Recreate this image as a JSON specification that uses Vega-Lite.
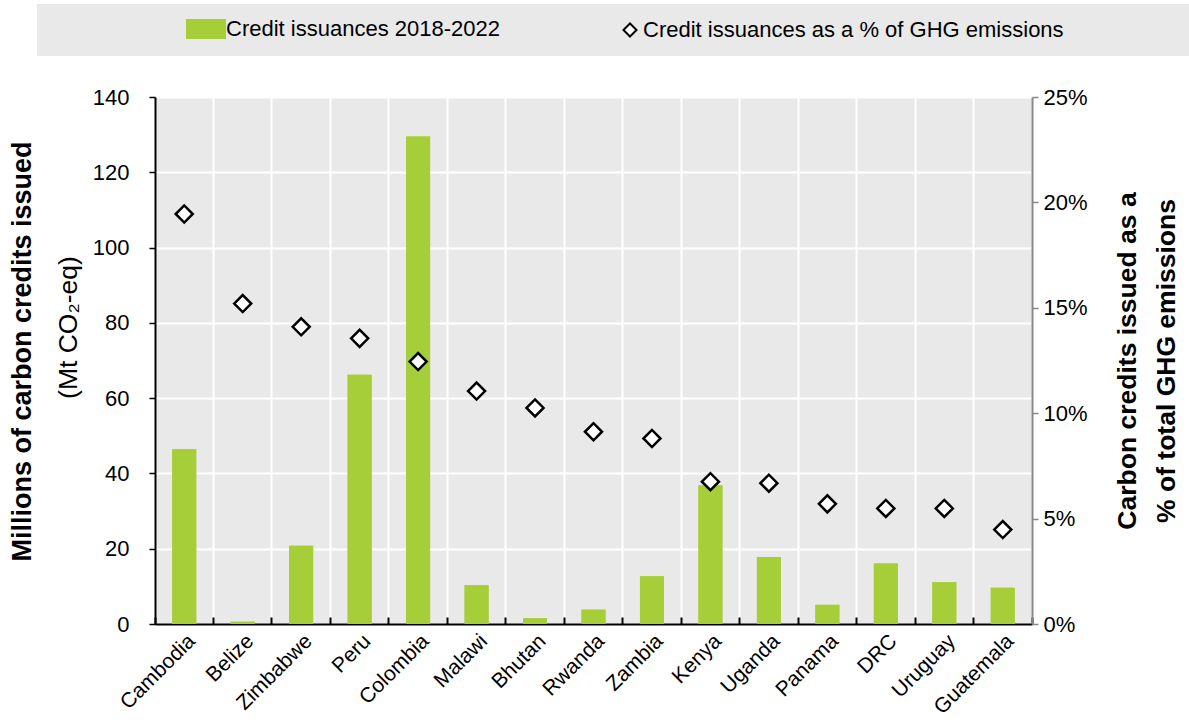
{
  "$schema": "https://vega.github.io/schema/vega-lite/v6.json",
  "width": 877,
  "height": 527,
  "padding": {"left": 155, "top": 97, "right": 157, "bottom": 98},
  "autosize": {"type": "none"},
  "config": {
    "font": "Liberation Sans",
    "view": {"fill": "#e9e9e9", "stroke": null},
    "axis": {"labelColor": "black", "titleColor": "black", "labelFontSize": 22, "labelFont": "Liberation Sans", "titleFont": "Liberation Sans"},
    "legend": {"labelFont": "Liberation Sans", "labelColor": "black"}
  },
  "data": {
    "values": [
      {"country": "Cambodia", "series": "Credit issuances 2018-2022", "value": 46.4},
      {"country": "Belize", "series": "Credit issuances 2018-2022", "value": 0.6},
      {"country": "Zimbabwe", "series": "Credit issuances 2018-2022", "value": 20.8},
      {"country": "Peru", "series": "Credit issuances 2018-2022", "value": 66.2},
      {"country": "Colombia", "series": "Credit issuances 2018-2022", "value": 129.5},
      {"country": "Malawi", "series": "Credit issuances 2018-2022", "value": 10.3},
      {"country": "Bhutan", "series": "Credit issuances 2018-2022", "value": 1.5},
      {"country": "Rwanda", "series": "Credit issuances 2018-2022", "value": 3.8},
      {"country": "Zambia", "series": "Credit issuances 2018-2022", "value": 12.7},
      {"country": "Kenya", "series": "Credit issuances 2018-2022", "value": 36.8},
      {"country": "Uganda", "series": "Credit issuances 2018-2022", "value": 17.8},
      {"country": "Panama", "series": "Credit issuances 2018-2022", "value": 5.1},
      {"country": "DRC", "series": "Credit issuances 2018-2022", "value": 16.1},
      {"country": "Uruguay", "series": "Credit issuances 2018-2022", "value": 11.1},
      {"country": "Guatemala", "series": "Credit issuances 2018-2022", "value": 9.6},
      {"country": "Cambodia", "series": "Credit issuances as a % of GHG emissions", "value": 0.1945},
      {"country": "Belize", "series": "Credit issuances as a % of GHG emissions", "value": 0.152},
      {"country": "Zimbabwe", "series": "Credit issuances as a % of GHG emissions", "value": 0.141},
      {"country": "Peru", "series": "Credit issuances as a % of GHG emissions", "value": 0.1355},
      {"country": "Colombia", "series": "Credit issuances as a % of GHG emissions", "value": 0.1245},
      {"country": "Malawi", "series": "Credit issuances as a % of GHG emissions", "value": 0.1105},
      {"country": "Bhutan", "series": "Credit issuances as a % of GHG emissions", "value": 0.1025},
      {"country": "Rwanda", "series": "Credit issuances as a % of GHG emissions", "value": 0.0912},
      {"country": "Zambia", "series": "Credit issuances as a % of GHG emissions", "value": 0.088},
      {"country": "Kenya", "series": "Credit issuances as a % of GHG emissions", "value": 0.0675},
      {"country": "Uganda", "series": "Credit issuances as a % of GHG emissions", "value": 0.0668},
      {"country": "Panama", "series": "Credit issuances as a % of GHG emissions", "value": 0.057},
      {"country": "DRC", "series": "Credit issuances as a % of GHG emissions", "value": 0.0548},
      {"country": "Uruguay", "series": "Credit issuances as a % of GHG emissions", "value": 0.0548},
      {"country": "Guatemala", "series": "Credit issuances as a % of GHG emissions", "value": 0.0448}
    ]
  },
  "resolve": {"scale": {"y": "independent"}, "axis": {"x": "independent", "y": "independent"}},
  "layer": [
    {
      "transform": [{"filter": "datum.series === 'Credit issuances 2018-2022'"}],
      "mark": {"type": "bar", "width": {"band": 0.41}},
      "encoding": {
        "x": {"field": "country", "type": "nominal", "sort": null, "scale": {"paddingInner": 0, "paddingOuter": 0}, "axis": null},
        "y": {"field": "value", "type": "quantitative", "scale": {"domain": [0, 140], "nice": false},
          "axis": {"orient": "left", "title": "Millions of carbon credits issued", "titleFontWeight": "bold", "titleFontSize": 27, "titleX": -119, "titleY": 254, "labels": false, "ticks": false, "domain": false, "grid": false}},
        "color": {"field": "series", "type": "nominal",
          "scale": {"domain": ["Credit issuances 2018-2022", "Credit issuances as a % of GHG emissions", " "], "range": ["#a6ce39", "#ffffff", "#e9e9e9"]},
          "legend": {"title": " ", "titleOrient": "left", "titlePadding": 151, "orient": "none", "legendX": -118, "legendY": -93, "direction": "horizontal", "fillColor": "#e9e9e9", "padding": 14, "columnPadding": 119, "labelFontSize": 22, "labelLimit": 900, "symbolStrokeWidth": 2, "labelOffset": 2,
            "encode": {"symbols": {"update": {"size": {"signal": "datum.value === 'Credit issuances 2018-2022' ? 1444 : datum.value === ' ' ? 0 : 170"}}}}}}
      }
    },
    {
      "transform": [{"filter": "datum.series === 'Credit issuances 2018-2022'"}],
      "mark": {"type": "bar", "width": {"band": 0.41}},
      "encoding": {
        "x": {"field": "country", "type": "nominal", "sort": null,
          "axis": {"orient": "bottom", "title": null, "labelAngle": -45, "labelFontSize": 21, "labelPadding": 6, "ticks": false, "grid": false, "domain": true, "domainColor": "black", "domainWidth": 2}},
        "y": {"field": "value", "type": "quantitative", "scale": {"domain": [0, 140], "nice": false},
          "axis": {"orient": "left", "values": [0, 20, 40, 60, 80, 100, 120, 140], "title": "(Mt CO₂-eq)", "titleFontWeight": "normal", "titleFontSize": 26.5, "titleX": -73, "titleY": 230, "grid": true, "gridColor": "white", "gridWidth": 2, "domainColor": "black", "domainWidth": 2, "tickColor": "black", "tickSize": 6, "tickWidth": 1.5, "labelPadding": 20}},
        "color": {"field": "series", "type": "nominal",
          "scale": {"domain": ["Credit issuances 2018-2022", "Credit issuances as a % of GHG emissions", " "], "range": ["#a6ce39", "#ffffff", "#e9e9e9"]},
          "legend": {"title": " ", "titleOrient": "left", "titlePadding": 151, "orient": "none", "legendX": -118, "legendY": -93, "direction": "horizontal", "fillColor": "#e9e9e9", "padding": 14, "columnPadding": 119, "labelFontSize": 22, "labelLimit": 900, "symbolStrokeWidth": 2, "labelOffset": 2,
            "encode": {"symbols": {"update": {"size": {"signal": "datum.value === 'Credit issuances 2018-2022' ? 1444 : datum.value === ' ' ? 0 : 170"}}}}}}
      }
    },
    {
      "transform": [{"filter": "datum.series === 'Credit issuances as a % of GHG emissions'"}],
      "mark": {"type": "point", "filled": true, "size": 290, "strokeWidth": 2.5, "opacity": 1},
      "encoding": {
        "x": {"field": "country", "type": "nominal", "sort": null,
          "axis": {"orient": "bottom", "title": null, "bandPosition": 1, "tickExtra": true, "grid": true, "gridColor": "white", "gridWidth": 2, "labels": false, "domain": false, "ticks": true, "tickColor": "black", "tickSize": -7, "tickWidth": 2}},
        "y": {"field": "value", "type": "quantitative", "scale": {"domain": [0, 0.25], "nice": false},
          "axis": {"orient": "right", "values": [0, 0.05, 0.1, 0.15, 0.2, 0.25], "format": ".0%", "grid": false, "domainColor": "#888888", "domainWidth": 2, "tickColor": "#888888", "tickSize": 6, "tickWidth": 1.5, "labelPadding": 5,
            "title": ["Carbon credits issued as a", "% of total GHG emissions"], "titleAngle": 270, "titleFontWeight": "bold", "titleFontSize": 26.5, "titleLineHeight": 39, "titlePadding": 15}},
        "color": {"field": "series", "type": "nominal",
          "scale": {"domain": ["Credit issuances 2018-2022", "Credit issuances as a % of GHG emissions", " "], "range": ["#a6ce39", "#ffffff", "#e9e9e9"]},
          "legend": {"title": " ", "titleOrient": "left", "titlePadding": 151, "orient": "none", "legendX": -118, "legendY": -93, "direction": "horizontal", "fillColor": "#e9e9e9", "padding": 14, "columnPadding": 119, "labelFontSize": 22, "labelLimit": 900, "symbolStrokeWidth": 2, "labelOffset": 2,
            "encode": {"symbols": {"update": {"size": {"signal": "datum.value === 'Credit issuances 2018-2022' ? 1444 : datum.value === ' ' ? 0 : 170"}}}}}},
        "shape": {"field": "series", "type": "nominal",
          "scale": {"domain": ["Credit issuances 2018-2022", "Credit issuances as a % of GHG emissions", " "], "range": ["M-1.368,-0.47H0.632V0.47H-1.368Z", "diamond", "circle"]},
          "legend": {"title": " ", "titleOrient": "left", "titlePadding": 151, "orient": "none", "legendX": -118, "legendY": -93, "direction": "horizontal", "fillColor": "#e9e9e9", "padding": 14, "columnPadding": 119, "labelFontSize": 22, "labelLimit": 900, "symbolStrokeWidth": 2, "labelOffset": 2,
            "encode": {"symbols": {"update": {"size": {"signal": "datum.value === 'Credit issuances 2018-2022' ? 1444 : datum.value === ' ' ? 0 : 170"}}}}}},
        "stroke": {"field": "series", "type": "nominal",
          "scale": {"domain": ["Credit issuances 2018-2022", "Credit issuances as a % of GHG emissions", " "], "range": ["#a6ce39", "#000000", "#e9e9e9"]},
          "legend": {"title": " ", "titleOrient": "left", "titlePadding": 151, "orient": "none", "legendX": -118, "legendY": -93, "direction": "horizontal", "fillColor": "#e9e9e9", "padding": 14, "columnPadding": 119, "labelFontSize": 22, "labelLimit": 900, "symbolStrokeWidth": 2, "labelOffset": 2,
            "encode": {"symbols": {"update": {"size": {"signal": "datum.value === 'Credit issuances 2018-2022' ? 1444 : datum.value === ' ' ? 0 : 170"}}}}}}
      }
    }
  ]
}
